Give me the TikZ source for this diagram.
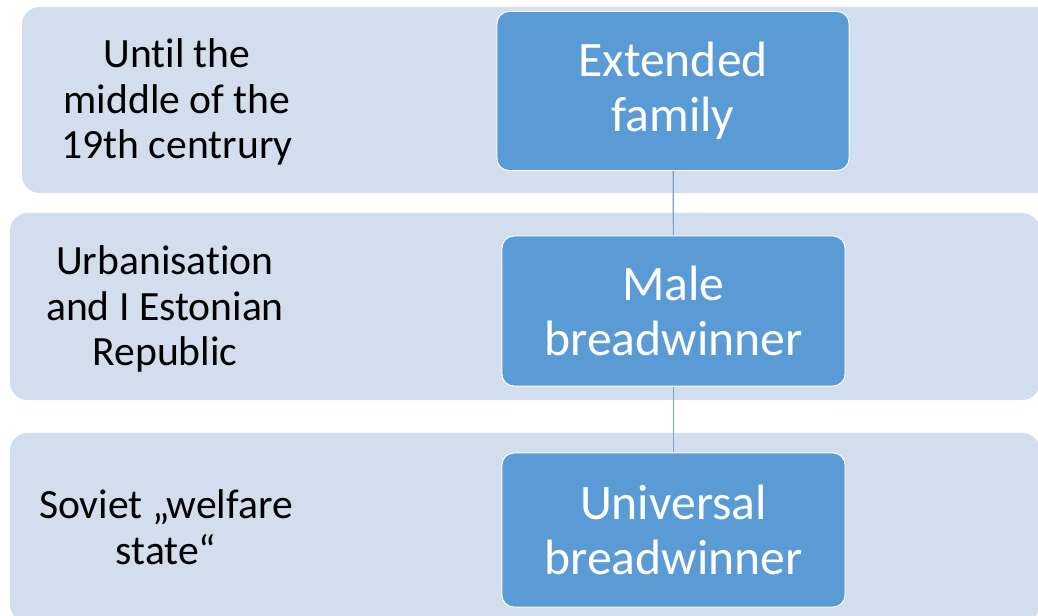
\documentclass[tikz,border=0pt]{standalone}
\usepackage{fontspec}
\setmainfont{Carlito}[Ligatures=CommonOff]
\usepackage{tikz}
\usepackage{xcolor}
\definecolor{bandfill}{RGB}{210,221,238}
\definecolor{boxfill}{RGB}{91,155,213}
\definecolor{linkline}{RGB}{125,160,205}

\begin{document}
\begin{tikzpicture}[x=0.025cm, y=-0.025cm,
    band/.style={draw=none, fill=bandfill, rounded corners=0.45cm, inner sep=0pt},
    stage/.style={draw=white, line width=0.7pt, fill=boxfill, rounded corners=0.3cm, text=white, align=center, font=\fontsize{35.3}{39}\selectfont},
    period/.style={align=center, text=black, font=\fontsize{29.6}{32.6}\selectfont}]
            \clip (0,0) rectangle (1038,616);

            % Bands
            \node[band, minimum width=25.95cm, minimum height=4.65cm] (band1) at (541,100) {};
            \node[band, minimum width=25.75cm, minimum height=4.675cm] (band2) at (525,306.5) {};
            \node[band, minimum width=25.75cm, minimum height=4.725cm] (band3) at (525,527.5) {};

            % Periods
            \node[period] (p1) at (177,102) {Until the\\middle of the\\19th centrury};
            \node[period] (p2) at (165,309) {Urbanisation\\and I Estonian\\Republic};
            \node[period] (p3) at (166,527) {Soviet „welfare\\state“};

            % Family models
            \node[stage, minimum width=8.8cm, minimum height=3.975cm] (m1) at (673,91) {Extended\\family};
            \node[stage, minimum width=8.575cm, minimum height=3.75cm] (m2) at (673.5,311) {Male\\breadwinner};
            \node[stage, minimum width=8.575cm, minimum height=3.85cm] (m3) at (673.5,530) {Universal\\breadwinner};

            % Edges
            \draw[linkline, line width=0.8pt] (m1) -- (m2);
            \draw[linkline, line width=0.8pt] (m2) -- (m3);
        \end{tikzpicture}
\end{document}
